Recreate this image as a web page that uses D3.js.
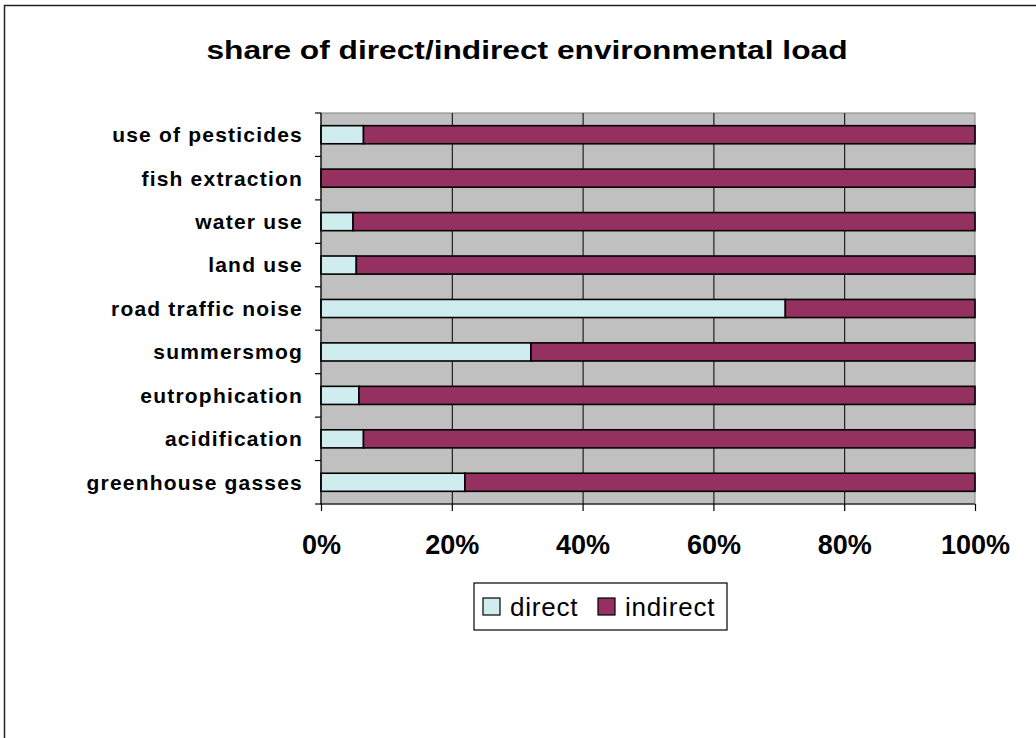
<!DOCTYPE html>
<html>
<head>
<meta charset="utf-8">
<script src="https://cdn.jsdelivr.net/npm/d3@7"></script>
<style>
    body { margin: 0; background: #fff; }
    svg { display: block; font-family: Arial, "Liberation Sans", sans-serif; }
</style>
</head>
<body>
<svg id="chart" width="1036" height="738"></svg>
<script>
// data, bottom to top as in the chart
var categories = ["greenhouse gasses", "acidification", "eutrophication", "summersmog",
    "road traffic noise", "land use", "water use", "fish extraction", "use of pesticides"];
var direct = [22.0, 6.5, 5.8, 32.1, 71.0, 5.4, 4.9, 0, 6.5];
var indirect = direct.map(function (d) { return 100 - d; });
var seriesNames = ["direct", "indirect"];
var xTicks = [0, 20, 40, 60, 80, 100];

function drawChart() {
    var svg = d3.select("#chart");
    var pLeft = 321, pTop = 113, pRight = 975, pBottom = 504;

    var color = d3.scaleOrdinal().domain(seriesNames).range(["#cfecef", "#953160"]);

    var xScale = d3.scaleLinear().domain([0, 100]).range([pLeft, pRight]);
    var yScale = d3.scaleBand().domain(categories.slice().reverse()).range([pTop, pBottom])
        .paddingInner(1.4 / 2.4).paddingOuter(0.7 / 2.4);

    // outer frame
    svg.append("rect")
        .attr("x", 4.5).attr("y", 5.5)
        .attr("width", 1100).attr("height", 800)
        .attr("fill", "none").attr("stroke", "#222").attr("stroke-width", 1.5);

    // title
    svg.append("text")
        .attr("x", 527).attr("y", 59)
        .attr("text-anchor", "middle")
        .attr("textLength", 641).attr("lengthAdjust", "spacingAndGlyphs")
        .style("font-size", "25px").style("font-weight", "bold")
        .text("share of direct/indirect environmental load");

    // plot background
    svg.append("rect")
        .attr("x", pLeft).attr("y", pTop)
        .attr("width", pRight - pLeft).attr("height", pBottom - pTop)
        .attr("fill", "#c0c0c0").attr("stroke", "#808080").attr("stroke-width", 1);

    // gridlines
    svg.append("g")
        .attr("transform", "translate(0," + pTop + ")")
        .call(d3.axisBottom(xScale).tickValues(xTicks.slice(1, -1)).tickSize(pBottom - pTop).tickFormat(""))
        .call(function (g) { g.select(".domain").remove(); })
        .selectAll("line").attr("stroke", "#000");

    // bars
    var rows = categories.map(function (c, i) { return { cat: c, direct: direct[i], indirect: indirect[i] }; });
    var layers = d3.stack().keys(seriesNames)(rows);

    svg.selectAll(".layer")
        .data(layers)
        .enter().append("g")
        .attr("class", "layer")
        .attr("fill", function (d) { return color(d.key); })
        .selectAll("rect")
        .data(function (d) { return d.filter(function (p) { return p[1] - p[0] > 0; }); })
        .enter().append("rect")
        .attr("x", function (d) { return xScale(d[0]); })
        .attr("y", function (d) { return yScale(d.data.cat); })
        .attr("width", function (d) { return xScale(d[1]) - xScale(d[0]); })
        .attr("height", yScale.bandwidth())
        .attr("stroke", "#000").attr("stroke-width", 1.6);

    // y axis
    var yAxisG = svg.append("g").attr("transform", "translate(" + pLeft + ",0)");
    yAxisG.append("line")
        .attr("x1", 0).attr("x2", 0).attr("y1", pTop).attr("y2", pBottom)
        .attr("stroke", "#000").attr("stroke-width", 1.2);
    var boundaries = d3.range(categories.length + 1).map(function (i) {
        return pTop + i * (pBottom - pTop) / categories.length;
    });
    yAxisG.selectAll(".ytick")
        .data(boundaries)
        .enter().append("line")
        .attr("x1", -6).attr("x2", 0)
        .attr("y1", function (d) { return d; }).attr("y2", function (d) { return d; })
        .attr("stroke", "#000").attr("stroke-width", 1.2);
    yAxisG.selectAll(".ylabel")
        .data(categories)
        .enter().append("text")
        .attr("x", -18)
        .attr("y", function (d) { return yScale(d) + yScale.bandwidth() / 2; })
        .attr("dy", "0.35em")
        .attr("text-anchor", "end")
        .style("font-size", "21px").style("font-weight", "bold").style("letter-spacing", "1.2px")
        .text(function (d) { return d; });

    // x axis
    var xAxisG = svg.append("g")
        .attr("transform", "translate(0," + pBottom + ")")
        .call(d3.axisBottom(xScale).tickValues(xTicks).tickSize(7).tickPadding(24)
            .tickFormat(function (d) { return d + "%"; }));
    xAxisG.select(".domain").attr("stroke", "#000").attr("stroke-width", 1.2).attr("d", "M" + pLeft + ",0H" + pRight);
    xAxisG.selectAll("line").attr("stroke", "#000").attr("stroke-width", 1.2);
    xAxisG.selectAll("text")
        .attr("fill", "#000")
        .style("font-size", "27px").style("font-weight", "bold")
        .style("font-family", "Arial, 'Liberation Sans', sans-serif");

    // legend
    var legend = svg.append("g").attr("transform", "translate(474,583)");
    legend.append("rect")
        .attr("width", 253).attr("height", 47)
        .attr("fill", "#fff").attr("stroke", "#000").attr("stroke-width", 1.2);
    var legendX = [9, 124];
    var item = legend.selectAll(".item")
        .data(seriesNames)
        .enter().append("g")
        .attr("transform", function (d, i) { return "translate(" + legendX[i] + ",15)"; });
    item.append("rect")
        .attr("width", 17).attr("height", 17)
        .attr("fill", function (d) { return color(d); })
        .attr("stroke", "#000").attr("stroke-width", 1.2);
    item.append("text")
        .attr("x", 27).attr("y", 8.5)
        .attr("dy", "0.36em")
        .style("font-size", "26px").style("letter-spacing", "0.8px")
        .text(function (d) { return d; });
}

drawChart();
</script>
</body>
</html>
